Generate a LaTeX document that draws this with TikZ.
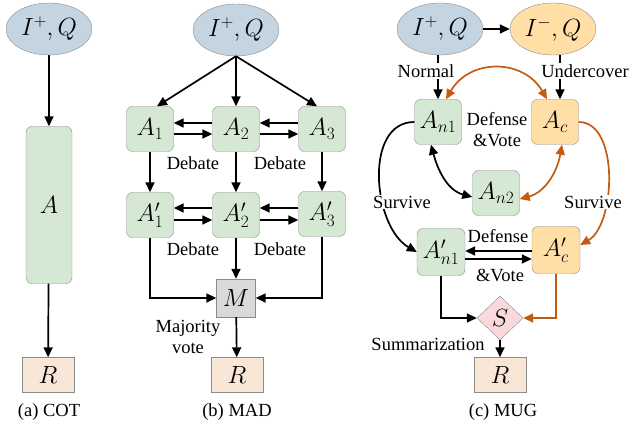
\documentclass[tikz,border=0pt]{standalone}
\usepackage{fontspec}
\setmainfont{Liberation Serif}
\usepackage{tikz}
\usetikzlibrary{positioning,arrows.meta,shapes,calc}
\definecolor{inblue}{HTML}{C4D4E0}
\definecolor{agentgreen}{HTML}{D5E8D4}
\definecolor{undercover}{HTML}{FFDFA6}
\definecolor{resultpeach}{HTML}{F8E6D6}
\definecolor{votegray}{HTML}{D9D9D9}
\definecolor{sumpink}{HTML}{FAD9DC}
\definecolor{bordergray}{HTML}{8C8C8C}
\definecolor{mugorange}{HTML}{C55A11}
\tikzset{
  mathsize/.style={font=\fontsize{23pt}{25pt}\selectfont},
  query/.style={ellipse, draw=bordergray, fill=inblue, minimum width=86pt, minimum height=52pt, inner sep=0pt, mathsize},
  agent/.style={draw=bordergray, fill=agentgreen, rounded corners=6pt, minimum width=47pt, minimum height=45pt, inner sep=0pt, mathsize},
  result/.style={draw=bordergray, fill=resultpeach, minimum width=52pt, minimum height=35pt, inner sep=0pt, mathsize},
  flow/.style={line width=1.7pt, -{Triangle[length=10pt,width=9pt]}},
  twoway/.style={line width=1.7pt, {Triangle[length=10pt,width=9pt]}-{Triangle[length=10pt,width=9pt]}},
  tag/.style={fill=white, inner sep=1pt}
}

\begin{document}
\begin{tikzpicture}[x=1pt, y=1pt, font=\fontsize{18.5pt}{21pt}\selectfont]
    \useasboundingbox (0,0) rectangle (632,-430);

    % (a) COT
    \node[query] (a-in) at (49,-29) {$I^+,Q$};
    \node[agent, minimum width=46pt, minimum height=157pt] (a-ans) at (49,-205) {$A$};
    \node[result] (a-r) at (48,-375) {$R$};
    \node (a-cap) at (49,-412) {(a) COT};

    \draw[flow] (a-in) -- (a-ans);
    \draw[flow] (a-ans) -- (a-r);

    % (b) MAD
    \node[query] (b-in) at (236,-30) {$I^+,Q$};
    \node[agent] (b-a1) at (150,-129) {$A_1$};
    \node[agent] (b-a2) at (236,-129) {$A_2$};
    \node[agent] (b-a3) at (322,-129) {$A_3$};
    \node[agent] (b-a1p) at (150,-215) {$A'_1$};
    \node[agent] (b-a2p) at (236,-215) {$A'_2$};
    \node[agent] (b-a3p) at (322,-214) {$A'_3$};
    \node[draw=bordergray, fill=votegray, minimum width=39pt, minimum height=38pt, inner sep=0pt, mathsize] (b-m) at (236,-298) {$M$};
    \node[result] (b-r) at (237,-375) {$R$};
    \node (b-deb1) at (193,-163) {Debate};
    \node (b-deb2) at (280,-163) {Debate};
    \node (b-deb3) at (193,-249) {Debate};
    \node (b-deb4) at (280,-249) {Debate};
    \node[align=center, inner sep=0pt] (b-major) at (188,-337) {Majority\\vote};
    \node (b-cap) at (237,-412) {(b) MAD};

    \draw[flow] (b-in.south) -- ([xshift=7pt]b-a1.north);
    \draw[flow] (b-in.south) -- (b-a2.north);
    \draw[flow] (b-in.south) -- ([xshift=-5pt]b-a3.north);
    \draw[flow] (b-a2.west |- 0,-123) -- (b-a1.east |- 0,-123);
    \draw[flow] (b-a1.east |- 0,-134) -- (b-a2.west |- 0,-134);
    \draw[flow] (b-a3.west |- 0,-123) -- (b-a2.east |- 0,-123);
    \draw[flow] (b-a2.east |- 0,-134) -- (b-a3.west |- 0,-134);
    \draw[flow] (b-a1) -- (b-a1p);
    \draw[flow] (b-a2) -- (b-a2p);
    \draw[flow] (b-a3) -- (b-a3p);
    \draw[flow] (b-a2p.west |- 0,-208) -- (b-a1p.east |- 0,-208);
    \draw[flow] (b-a1p.east |- 0,-220) -- (b-a2p.west |- 0,-220);
    \draw[flow] (b-a3p.west |- 0,-208) -- (b-a2p.east |- 0,-208);
    \draw[flow] (b-a2p.east |- 0,-220) -- (b-a3p.west |- 0,-220);
    \draw[flow] (b-a1p.south) |- (b-m.west);
    \draw[flow] (b-a3p.south) |- (b-m.east);
    \draw[flow] (b-a2p) -- (b-m);
    \draw[flow] (b-m) -- (b-r);

    % (c) MUG
    \node[query] (c-pos) at (440,-29) {$I^+,Q$};
    \node[query, fill=undercover] (c-neg) at (553,-29) {$I^-,Q$};
    \node[agent] (c-n1) at (438,-122) {$A_{n1}$};
    \node[agent, fill=undercover] (c-c) at (555,-122) {$A_c$};
    \node[agent] (c-n2) at (496,-193) {$A_{n2}$};
    \node[agent, minimum width=48pt, minimum height=47pt] (c-n1p) at (441,-252) {$A'_{n1}$};
    \node[agent, fill=undercover, minimum width=48pt, minimum height=47pt] (c-cp) at (556,-250) {$A'_c$};
    \node[diamond, draw=bordergray, fill=sumpink, minimum width=46pt, minimum height=44pt, inner sep=0pt, mathsize] (c-s) at (500,-318) {$S$};
    \node[result] (c-r) at (500,-375) {$R$};

    \draw[flow] (c-pos) -- (c-neg);
    \draw[flow] (c-pos.south -| c-n1) -- (c-n1.north);
    \draw[flow] ([xshift=5pt]c-c.north |- c-neg.south) -- ([xshift=5pt]c-c.north);
    \draw[twoway, draw=mugorange] ([xshift=8pt]c-n1.north) to[out=60, in=120, looseness=1.2] ([xshift=-8pt]c-c.north);
    \draw[twoway] ([xshift=-7pt]c-n1.south) to[out=-75, in=165] ([yshift=-4pt]c-n2.west);
    \draw[twoway, draw=mugorange] ([xshift=7pt]c-c.south) to[out=-100, in=15] ([yshift=-6pt]c-n2.east);
    \draw[flow] (c-n1.west) to[out=180, in=150] (c-n1p.west);
    \draw[flow, draw=mugorange] (c-c.east) to[out=0, in=30, looseness=0.85] ([yshift=5pt]c-cp.east);
    \draw[flow] (c-cp.west |- 0,-251) -- (c-n1p.east |- 0,-251);
    \draw[flow] (c-n1p.east |- 0,-259) -- (c-cp.west |- 0,-259);
    \draw[flow] (c-n1p.south) |- (c-s.west);
    \draw[flow, draw=mugorange] (c-cp.south) |- (c-s.east);
    \draw[flow] (c-s) -- (c-r);

    \node[tag] (c-normal) at (426,-71) {Normal};
    \node[tag] (c-under) at (585,-71) {Undercover};
    \node[align=center, inner sep=0pt] (c-dv1) at (497,-130) {Defense\\\&Vote};
    \node[tag] (c-surv1) at (402,-202) {Survive};
    \node[tag] (c-surv2) at (593,-202) {Survive};
    \node (c-def) at (498,-236) {Defense};
    \node (c-vote) at (500,-275) {\&Vote};
    \node (c-summ) at (428,-344) {Summarization};
    \node (c-cap) at (503,-412) {(c) MUG};
\end{tikzpicture}
\end{document}
